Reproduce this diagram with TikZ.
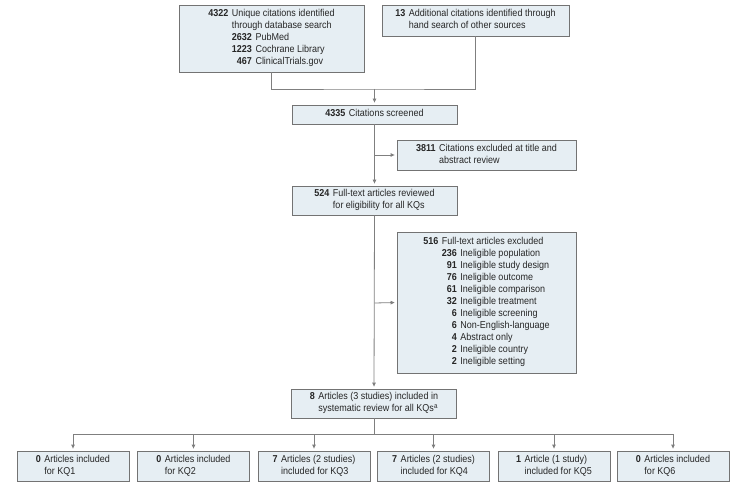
\documentclass[tikz,border=0pt]{standalone}
\usepackage{fontspec}
\setmainfont[FakeStretch=0.9]{Liberation Sans}
\usetikzlibrary{arrows.meta}
\definecolor{boxfill}{HTML}{E6EEF3}
\definecolor{boxline}{HTML}{737373}
\definecolor{conn}{HTML}{7F7F7F}
\newcommand{\ntab}[1]{\begin{tabular}{@{}r@{\hspace{3.5pt}}l@{}}#1\end{tabular}}
\tikzset{
  box/.style={draw=boxline, fill=boxfill, line width=0.8pt, inner sep=0pt,
    font=\fontsize{10}{12}\selectfont, text=black!85},
  conline/.style={draw=conn, line width=0.8pt},
  arr/.style={conline, -{Triangle[length=4pt,width=3.5pt]}, shorten >=2pt},
}
\begin{document}
\begin{tikzpicture}[x=1pt,y=-1pt]
\useasboundingbox (0,0) rectangle (749,489);
% boxes
\node[box, minimum width=185pt, minimum height=67pt] (db) at (271.5,38.5)
  {\ntab{\textbf{4322} & Unique citations identified\\ & through database search\\
   & \ntab{\textbf{2632} & PubMed\\ \textbf{1223} & Cochrane Library\\ \textbf{467} & ClinicalTrials.gov}}};
\node[box, minimum width=187pt, minimum height=31pt] (hand) at (475.5,20.5)
  {\ntab{\textbf{13} & Additional citations identified through\\ & hand search of other sources}};
\node[box, minimum width=165pt, minimum height=19pt] (screen) at (374.5,114.5)
  {\ntab{\textbf{4335} & Citations screened}};
\node[box, minimum width=179pt, minimum height=30pt] (excl1) at (486.5,155)
  {\ntab{\textbf{3811} & Citations excluded at title and\\ & abstract review}};
\node[box, minimum width=165pt, minimum height=29pt] (full) at (374.5,200.5)
  {\ntab{\textbf{524} & Full-text articles reviewed\\ & for eligibility for all KQs}};
\node[box, minimum width=179pt, minimum height=141pt] (excl2) at (486.5,302.5)
  {\ntab{\textbf{516} & Full-text articles excluded\\
   & \ntab{\textbf{236} & Ineligible population\\
          \textbf{91} & Ineligible study design\\
          \textbf{76} & Ineligible outcome\\
          \textbf{61} & Ineligible comparison\\
          \textbf{32} & Ineligible treatment\\
          \textbf{6} & Ineligible screening\\
          \textbf{6} & Non-English-language\\
          \textbf{4} & Abstract only\\
          \textbf{2} & Ineligible country\\
          \textbf{2} & Ineligible setting}}};
\node[box, minimum width=165pt, minimum height=29pt] (incl) at (374,403.5)
  {\ntab{\textbf{8} & Articles (3 studies) included in\\ & systematic review for all KQs\textsuperscript{a}}};
\node[box, minimum width=112pt, minimum height=30pt] (kq1) at (73,466)
  {\ntab{\textbf{0} & Articles included\\ & for KQ1}};
\node[box, minimum width=112pt, minimum height=30pt] (kq2) at (193.5,466)
  {\ntab{\textbf{0} & Articles included\\ & for KQ2}};
\node[box, minimum width=112pt, minimum height=30pt] (kq3) at (314,466)
  {\ntab{\textbf{7} & Articles (2 studies)\\ & included for KQ3}};
\node[box, minimum width=112pt, minimum height=30pt] (kq4) at (433.5,466)
  {\ntab{\textbf{7} & Articles (2 studies)\\ & included for KQ4}};
\node[box, minimum width=112pt, minimum height=30pt] (kq5) at (554,466)
  {\ntab{\textbf{1} & Article (1 study)\\ & included for KQ5}};
\node[box, minimum width=112pt, minimum height=30pt] (kq6) at (673,466)
  {\ntab{\textbf{0} & Articles included\\ & for KQ6}};
% junction coordinates
\coordinate (j1) at (374.5,89);
\coordinate (b1) at (374.5,155);
\coordinate (b2) at (374.5,303);
\coordinate (j2) at (374,434);
% connectors
\draw[conline] (db.south) |- (j1) -| (hand.south);
\draw[arr] (j1) -- (screen.north);
\draw[arr] (screen.south) -- (full.north);
\draw[arr] (b1) -- (excl1.west);
\draw[arr] (full.south) -- (incl.north);
\draw[arr] (b2) -- (excl2.west);
\draw[conline] (incl.south) -- (j2);
\draw[conline] (kq1.north |- j2) -- (kq6.north |- j2);
\foreach \k in {kq1,kq2,kq3,kq4,kq5,kq6}
  \draw[arr] (\k.north |- j2) -- (\k.north);
\end{tikzpicture}
\end{document}
